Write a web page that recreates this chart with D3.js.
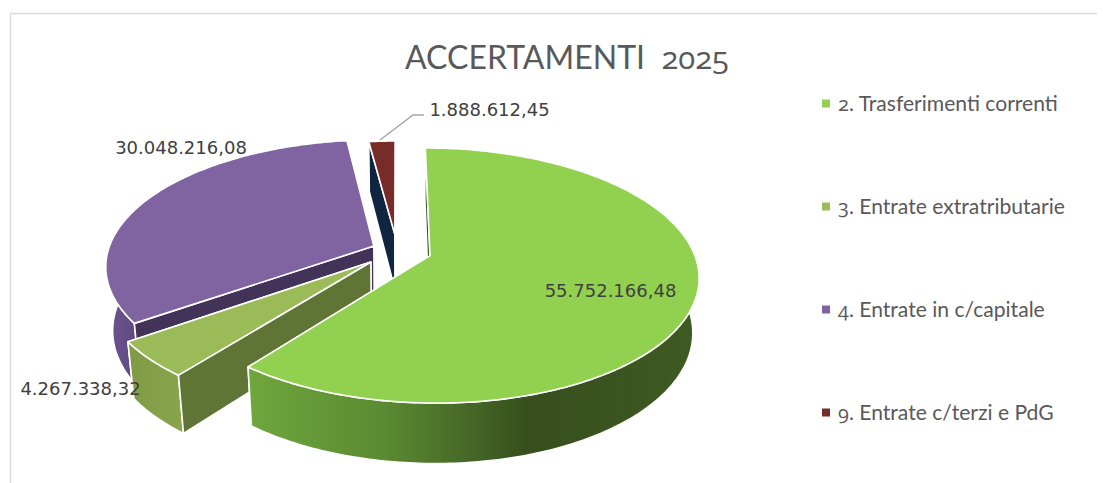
<!DOCTYPE html>
<html><head><meta charset="utf-8">
<script src="https://cdn.jsdelivr.net/npm/d3@7"></script>
<style>html,body{margin:0;padding:0;background:#fff}svg{display:block}
text{font-kerning:normal}</style></head><body><svg id="c" width="1110" height="483"></svg>
<script>
const chartTitle = "ACCERTAMENTI  2025";
const categories = ["2. Trasferimenti correnti","3. Entrate extratributarie","4. Entrate in c/capitale","9. Entrate c/terzi e PdG"];
const values = [55752166.48,4267338.32,30048216.08,1888612.45];
const valueLabels = ["55.752.166,48","4.267.338,32","30.048.216,08","1.888.612,45"];
const topColors = ["#92d050","#9bbb59","#8064a2","#772c2a"];
const sideColors = ["#3f5a22","#607535","#433358","#10253f"];
const explode = [0.14,0.14,0.08,0.13];
const radiusK = [1,1,1.01,0.9];
const nudgeX = [0,3,-2,2];
const depthK = [1.02,1,1.2,1.05];
const labelPos = [[610.5,291],[80.5,389],[181,148],[489.5,110]];

const W=1110,H=483, cx=395, cy=250, A=263, k=122.7, p=0.1545, q=0.02, h=54;
const svg=d3.select("#c");
const defs=svg.append("defs");
function grad(id,x1,x2,stops){
  const g=defs.append("linearGradient").attr("id",id).attr("gradientUnits","userSpaceOnUse")
    .attr("x1",x1).attr("x2",x2).attr("y1",0).attr("y2",0);
  stops.forEach(s=>g.append("stop").attr("offset",s[0]).attr("stop-color",s[1]));
}
grad("gw0",250,700,[[0,"#70a63c"],[0.3,"#5a8a32"],[0.62,"#364f1d"],[1,"#3f5a22"]]);
grad("gw1",128,186,[[0,"#7f9a44"],[1,"#8aa64c"]]);
grad("gw2",108,135,[[0,"#6c5490"],[1,"#5f4a80"]]);
grad("gw3",360,400,[[0,"#10253f"],[1,"#10253f"]]);

// frame
svg.append("path").attr("d",d3.line()([[10.5,483],[10.5,13.5],[1097,13.5]])).attr("fill","none").attr("stroke","#d9d9d9").attr("stroke-width",1.5);

const pie=d3.pie().sort(null)(values);
function proj(X,Y,Z){const d=1/(1+p*Y+q*Z);return [cx+A*X*d,cy-k*Y*d+h*Z*d];}
const line=d3.line();
function slicePts(i){
  const a=pie[i],mid=(a.startAngle+a.endAngle)/2,e=explode[i],r=radiusK[i];
  const ox=Math.sin(mid)*e,oy=Math.cos(mid)*e;
  const n=Math.max(6,Math.round((a.endAngle-a.startAngle)*60));
  const ang=d3.range(n+1).map(t=>a.startAngle+(a.endAngle-a.startAngle)*t/n);
  const ring=Z=>ang.map(t=>{const P=proj(ox+r*Math.sin(t),oy+r*Math.cos(t),Z);return [P[0]+nudgeX[i],P[1]];});
  const ap=Z=>{const P=proj(ox,oy,Z);return [P[0]+nudgeX[i],P[1]];};
  return {ring,ap};
}
const order=[3,2,1,0];
const g=svg.append("g");
function face(pts,fill){
  g.append("path").attr("d",line(pts)+"Z").attr("fill",fill).attr("stroke","#fff").attr("stroke-width",1.6).attr("stroke-linejoin","round");
}
order.forEach(i=>{
  const s=slicePts(i),t=s.ring(0),b=s.ring(depthK[i]),a0=s.ap(0),a1=s.ap(depthK[i]);
  const side=sideColors[i];
  face([a0,t[t.length-1],b[b.length-1],a1],side);
  face(t.concat(b.slice().reverse()),"url(#gw"+i+")");
  face([a0,t[0],b[0],a1],side);
  face([a0].concat(t),topColors[i]);
});

// leader line
svg.append("path").attr("d",line([[380,140],[413,115],[424,115]])).attr("fill","none").attr("stroke","#a6a6a6").attr("stroke-width",1.5);

// value labels
svg.selectAll("text.v").data(valueLabels).join("text").attr("class","v")
  .attr("x",(d,i)=>labelPos[i][0]).attr("y",(d,i)=>labelPos[i][1]).attr("dy","0.36em")
  .attr("text-anchor","middle").attr("font-family","'DejaVu Sans'").attr("font-size",18).attr("fill","#404040").text(d=>d);

// text whose digits use old-style figures
function oldStyle(sel,digitScale){
  sel.each(function(d){
    const txt=d3.select(this);
    d.split(/(\d+)/).filter(s=>s.length).forEach(part=>{
      const isNum=/^\d+$/.test(part);
      const ts=txt.append("tspan").text(part);
      if(isNum) ts.attr("font-family","'Open Sans'").attr("font-size",digitScale).style("font-variant-numeric","oldstyle-nums");
    });
  });
}
// title
svg.selectAll("text.t").data([chartTitle]).join("text").attr("class","t").attr("x",567).attr("y",68.5).attr("text-anchor","middle")
  .attr("font-family","Lato").attr("font-size",32).attr("fill","#595959")
  .style("white-space","pre").call(oldStyle,31);

// legend
const ly=d3.scalePoint().domain(categories).range([103,412]);
const lg=svg.selectAll("g.l").data(categories).join("g").attr("class","l").attr("transform",d=>`translate(0,${ly(d)})`);
lg.append("rect").attr("x",822).attr("y",-3.5).attr("width",8).attr("height",8).attr("fill",(d,i)=>topColors[i]);
lg.append("text").attr("x",838).attr("y",0).attr("dy","0.36em").attr("font-family","Lato").attr("font-size",21.1)
  .attr("fill","#595959").call(oldStyle,20);
</script></body></html>
